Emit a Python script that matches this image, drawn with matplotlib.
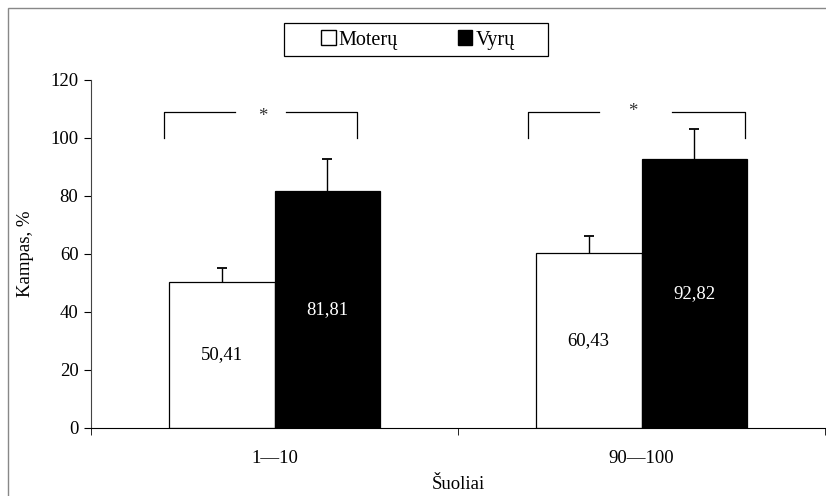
import numpy as np
import matplotlib.pyplot as plt
from matplotlib.patches import Patch, Rectangle

plt.rcParams['font.family'] = ['Liberation Serif', 'DejaVu Serif']

# duomenys
categories = ['1—10', '90—100']
moteru = [50.41, 60.43]
vyru = [81.81, 92.82]
moteru_err = [4.8, 5.8]
vyru_err = [11.1, 10.3]
labels_m = ['50,41', '60,43']
labels_v = ['81,81', '92,82']
# reikšmingumo skliaustai
br_left = [-0.301, -0.309]
br_right = [0.225, 0.282]
gap_l = [-0.108, -0.116]
gap_r = [0.031, 0.083]
star_x = [-0.031, -0.023]
star_y = [107.4, 109.3]

fs = 13.5
fig = plt.figure(figsize=(8.26, 4.96), dpi=100)
ax = fig.add_axes([91 / 826, 68 / 496, 734 / 826, 348 / 496])

x = np.arange(len(categories))
w = 0.2875
ax.bar(x - w / 2, moteru, w, color='white', edgecolor='black', linewidth=0.9)
ax.bar(x + w / 2, vyru, w, color='black', edgecolor='black', linewidth=0.9)
for pos, vals, errs in [(x - w / 2, moteru, moteru_err), (x + w / 2, vyru, vyru_err)]:
    eb = ax.errorbar(pos, vals, yerr=[np.zeros(len(vals)), errs], fmt='none',
                     ecolor='black', elinewidth=1, capsize=3.6, capthick=1.3)
    eb[1][0].set_visible(False)  # tik viršutinis brūkšnelis

for i in range(len(categories)):
    ax.text(x[i] - w / 2, moteru[i] / 2, labels_m[i], ha='center', va='center', fontsize=fs)
    ax.text(x[i] + w / 2, vyru[i] / 2, labels_v[i], ha='center', va='center',
            fontsize=fs, color='white')
    # skliaustai
    ax.plot([x[i] + br_left[i], x[i] + br_left[i], x[i] + gap_l[i]], [100, 109, 109],
            color='black', lw=0.9)
    ax.plot([x[i] + gap_r[i], x[i] + br_right[i], x[i] + br_right[i]], [109, 109, 100],
            color='black', lw=0.9)
    ax.text(x[i] + star_x[i], star_y[i], '*', ha='center', va='center', fontsize=fs,
            color='#333333')

ax.set_xlim(-0.5, 1.5)
ax.set_ylim(0, 120)
ax.set_yticks(np.arange(0, 121, 20))
ax.set_xticks(x)
ax.set_xticklabels(categories, fontsize=fs)
ax.set_xticks([-0.5, 0.5, 1.5], minor=True)
ax.tick_params(axis='x', which='major', length=0, pad=16)
ax.tick_params(axis='x', which='minor', length=5, direction='out')
ax.tick_params(axis='y', labelsize=fs, length=5, direction='out', pad=4)
ax.spines['top'].set_visible(False)
ax.spines['right'].set_visible(False)
ax.spines['left'].set_color('#444444')
ax.set_ylabel('Kampas, %', fontsize=fs, labelpad=12)
ax.set_xlabel('Šuoliai', fontsize=fs, labelpad=6)

handles = [Patch(facecolor='white', edgecolor='black', label='Moterų'),
           Patch(facecolor='black', edgecolor='black', label='Vyrų')]
fig.legend(handles=handles, ncol=2, loc='center', bbox_to_anchor=(418 / 826, 1 - 40 / 496),
           fontsize=14.5, frameon=False, handlelength=0.7, handleheight=0.7,
           handletextpad=0.15, columnspacing=3.0, borderpad=0, borderaxespad=0)
# legendos rėmelis
fig.patches.append(Rectangle((284 / 826, 1 - 56 / 496), 264 / 826, 33 / 496,
                             transform=fig.transFigure, fill=False,
                             edgecolor='black', linewidth=0.9))

fig.patches.append(Rectangle((8 / 826, -0.01), 1.0, 1 - 8 / 496 + 0.01,
                             transform=fig.transFigure, fill=False,
                             edgecolor='#888888', linewidth=1))

fig.savefig('out.png', dpi=100)
